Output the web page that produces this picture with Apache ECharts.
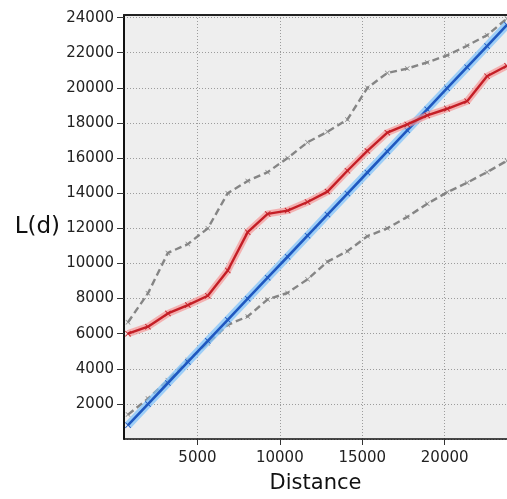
<!DOCTYPE html>
<html>
<head>
<meta charset="utf-8">
<script src="https://cdn.jsdelivr.net/npm/echarts@6/dist/echarts.min.js"></script>
<style>
html,body{margin:0;padding:0;background:#fff;}
#chart{width:507px;height:499px;}
</style>
</head>
<body>
<div id="chart"></div>
<script>
// Distances (x values)
const distance = [790, 2000, 3210, 4420, 5630, 6840, 8050, 9260, 10470, 11680, 12890, 14100, 15310, 16520, 17730, 18940, 20150, 21360, 22570, 23780];
// Observed L(d) (red)
const observed = [6000, 6400, 7150, 7630, 8160, 9600, 11780, 12820, 13010, 13500, 14090, 15280, 16410, 17450, 17920, 18430, 18810, 19240, 20660, 21260];
// Expected L(d) (blue)
const expected = [790, 1990, 3190, 4390, 5590, 6790, 7990, 9190, 10380, 11580, 12780, 13980, 15180, 16380, 17580, 18780, 19980, 21180, 22380, 23590];
// Upper confidence envelope (grey dashed)
const upperEnv = [6650, 8300, 10600, 11100, 12000, 14000, 14700, 15200, 16000, 16900, 17500, 18200, 20000, 20850, 21100, 21450, 21850, 22400, 23000, 23950];
// Lower confidence envelope (grey dashed)
const lowerEnv = [1390, 2300, 3350, 4500, 5450, 6500, 6980, 7950, 8320, 9100, 10100, 10700, 11550, 12000, 12650, 13400, 14050, 14600, 15200, 15850];

const xName = 'Distance';
const yName = 'L(d)';

const pairs = (ys) => distance.map((d, i) => [d, ys[i]]);
const cross = 'path://M0,1L1,0L5,4L9,0L10,1L6,5L10,9L9,10L5,6L1,10L0,9L4,5Z';
const labelFont = {fontFamily: 'DejaVu Sans', fontSize: 15, color: '#222', formatter: (v) => String(v)};
const gridLine = {show: true, lineStyle: {color: '#9c9c9c', type: [1, 2], width: 1}};

const chart = echarts.init(document.getElementById('chart'), null, {renderer: 'canvas'});
chart.setOption({
  animation: false,
  backgroundColor: '#ffffff',
  grid: {left: 124, top: 15, right: 0, bottom: 58, show: true, backgroundColor: '#eeeeee', borderWidth: 0},
  xAxis: [{
    type: 'value', min: 546, max: 23780, splitNumber: 5,
    name: xName, nameLocation: 'middle', nameGap: 34,
    nameTextStyle: {fontFamily: 'DejaVu Sans', fontSize: 21, color: '#111'},
    axisLine: {show: true, lineStyle: {color: '#111', width: 1.5}},
    axisTick: {show: true, length: 6, lineStyle: {color: '#333'}},
    axisLabel: Object.assign({margin: 12, showMinLabel: false, showMaxLabel: false}, labelFont),
    splitLine: gridLine
  }, {
    type: 'value', position: 'top', min: 546, max: 23780,
    axisLine: {show: true, onZero: false, lineStyle: {color: '#222', width: 2}},
    axisTick: {show: false}, axisLabel: {show: false}, splitLine: {show: false}
  }],
  yAxis: {
    type: 'value', min: 0, max: 24150, interval: 2000,
    name: yName, nameLocation: 'middle', nameRotate: 0, nameGap: 64,
    nameTextStyle: {fontFamily: 'DejaVu Sans', fontSize: 23, color: '#111', align: 'right', verticalAlign: 'middle'},
    axisLine: {show: true, lineStyle: {color: '#111', width: 2}},
    axisTick: {show: true, length: 7, lineStyle: {color: '#333'}},
    axisLabel: Object.assign({margin: 10, showMinLabel: false, showMaxLabel: false}, labelFont),
    splitLine: gridLine
  },
  series: [
    {
      type: 'line', data: pairs(upperEnv), symbol: cross, symbolSize: 5, showSymbol: true,
      itemStyle: {color: '#858585'},
      lineStyle: {color: '#858585', width: 2.4, type: [7, 4]}, z: 2
    },
    {
      type: 'line', data: pairs(lowerEnv), symbol: cross, symbolSize: 5, showSymbol: true,
      itemStyle: {color: '#858585'},
      lineStyle: {color: '#858585', width: 2.4, type: [7, 4]}, z: 2
    },
    {
      type: 'line', data: pairs(expected), showSymbol: false, silent: true,
      lineStyle: {color: 'rgba(130,195,250,0.75)', width: 8}, z: 3
    },
    {
      type: 'line', data: pairs(expected), symbol: cross, symbolSize: 6, showSymbol: true,
      itemStyle: {color: '#1f58c0'},
      lineStyle: {color: '#1f58c0', width: 2.6}, z: 3
    },
    {
      type: 'line', data: pairs(observed), showSymbol: false, silent: true,
      lineStyle: {color: 'rgba(245,150,150,0.7)', width: 7}, z: 4
    },
    {
      type: 'line', data: pairs(observed), symbol: cross, symbolSize: 6, showSymbol: true,
      itemStyle: {color: '#c41e26'},
      lineStyle: {color: '#c41e26', width: 2.4}, z: 4
    }
  ]
});
</script>
</body>
</html>
